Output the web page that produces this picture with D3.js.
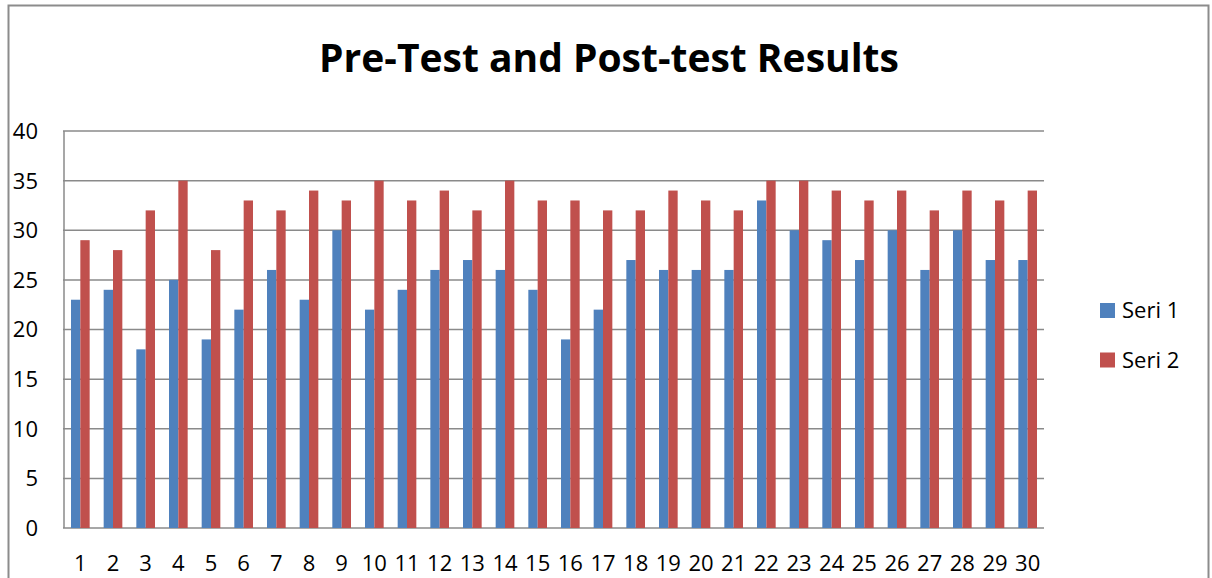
<!DOCTYPE html>
<html>
<head>
<meta charset="utf-8">
<script src="https://cdn.jsdelivr.net/npm/d3@7"></script>
<style>
  body { margin: 0; background: #fff; }
  text { font-family: "Open Sans", "DejaVu Sans", sans-serif; fill: #000; }
</style>
</head>
<body>
<div class="chart"></div>
<script>
'use strict';

const categories = d3.range(1, 31).map(String);
const seri1 = [23, 24, 18, 25, 19, 22, 26, 23, 30, 22, 24, 26, 27, 26, 24, 19, 22, 27, 26, 26, 26, 33, 30, 29, 27, 30, 26, 30, 27, 27];
const seri2 = [29, 28, 32, 35, 28, 33, 32, 34, 33, 35, 33, 34, 32, 35, 33, 33, 32, 32, 34, 33, 32, 35, 35, 34, 33, 34, 32, 34, 33, 34];
const seriesNames = ["Seri 1", "Seri 2"];
const seriesColors = ["#4F81BD", "#C0504D"];
const yTicks = [0, 5, 10, 15, 20, 25, 30, 35, 40];

(function() {
    const width = 1212, height = 578;
    const svg = d3.select('.chart').append('svg')
        .attr('width', width).attr('height', height);

    // outer chart frame
    svg.append('rect')
        .attr('x', 8.5).attr('y', 5.5)
        .attr('width', 1200).attr('height', 600)
        .attr('fill', 'none')
        .attr('stroke', '#8c8c8c')
        .attr('stroke-width', 2);

    const plot = { left: 64, right: 1044, top: 131, bottom: 528 };

    let xScale = d3.scaleBand()
        .domain(categories)
        .range([plot.left, plot.right])
        .paddingInner(0)
        .paddingOuter(0);

    let yScale = d3.scaleLinear()
        .domain([0, 40])
        .range([plot.bottom, plot.top]);

    // bar width: gap width 150% like the office chart
    let bw = xScale.bandwidth() / 3.5;
    let xInner = d3.scaleBand()
        .domain([0, 1])
        .range([bw * 0.75, bw * 2.75]);

    // gridlines
    svg.append('g')
        .selectAll('line')
        .data(yTicks)
        .enter()
        .append('line')
          .attr('x1', plot.left - 1)
          .attr('x2', plot.right)
          .attr('y1', (d) => yScale(d))
          .attr('y2', (d) => yScale(d))
          .attr('stroke', '#8a8a8a')
          .attr('stroke-width', 1.5);

    // left axis line
    svg.append('line')
        .attr('x1', plot.left).attr('x2', plot.left)
        .attr('y1', plot.top).attr('y2', plot.bottom)
        .attr('stroke', '#8a8a8a')
        .attr('stroke-width', 1.5);

    // bars
    let series = [seri1, seri2];
    series.forEach(function(values, si) {
        svg.append('g')
          .selectAll('rect')
          .data(values)
          .enter()
          .append('rect')
            .attr('x', (d, i) => xScale(categories[i]) + xInner(si))
            .attr('y', (d) => yScale(d))
            .attr('width', xInner.bandwidth())
            .attr('height', (d) => yScale(0) - yScale(d))
            .attr('fill', seriesColors[si]);
    });

    // y labels
    svg.append('g')
        .selectAll('text')
        .data(yTicks)
        .enter()
        .append('text')
          .attr('x', 38)
          .attr('y', (d) => yScale(d))
          .attr('dy', '0.36em')
          .attr('text-anchor', 'end')
          .style('font-size', '22px')
          .text((d) => d);

    // x labels
    svg.append('g')
        .selectAll('text')
        .data(categories)
        .enter()
        .append('text')
          .attr('x', (d) => xScale(d) + xScale.bandwidth() / 2)
          .attr('y', 571)
          .attr('text-anchor', 'middle')
          .style('font-size', '22px')
          .text((d) => d);

    // title
    svg.append('text')
        .attr('x', 609)
        .attr('y', 72)
        .attr('text-anchor', 'middle')
        .style('font-size', '39px')
        .style('font-weight', 'bold')
        .text('Pre-Test and Post-test Results');

    // legend
    let legend = svg.append('g')
        .selectAll('g')
        .data(seriesNames)
        .enter()
        .append('g')
          .attr('transform', (d, i) => 'translate(1100,' + (303 + i * 49.5) + ')');

    legend.append('rect')
        .attr('width', 15).attr('height', 15)
        .attr('fill', (d, i) => seriesColors[i]);

    legend.append('text')
        .attr('x', 22)
        .attr('y', 7.5)
        .attr('dy', '0.36em')
        .style('font-size', '22px')
        .text((d) => d);
})();
</script>
</body>
</html>
